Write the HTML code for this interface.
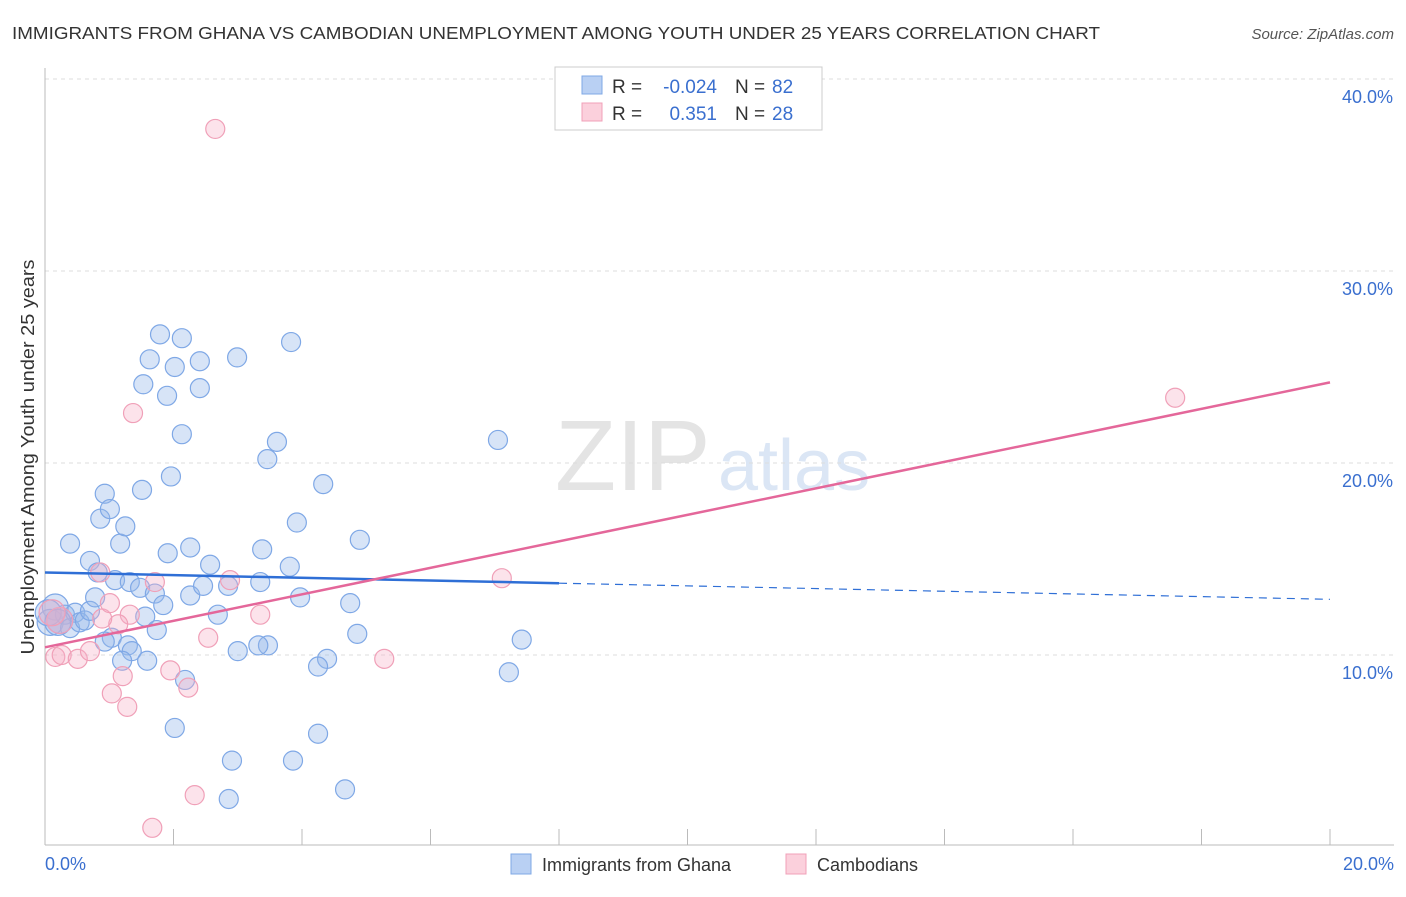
<!DOCTYPE html>
<html><head><meta charset="utf-8"><style>
body{margin:0;background:#fff;font-family:"Liberation Sans",sans-serif;}
svg text{font-family:"Liberation Sans",sans-serif;}
</style></head><body>
<svg id="chart" width="1406" height="892" xmlns="http://www.w3.org/2000/svg">
<text x="12" y="39" font-size="17.5" fill="#333" textLength="1088" lengthAdjust="spacingAndGlyphs">IMMIGRANTS FROM GHANA VS CAMBODIAN UNEMPLOYMENT AMONG YOUTH UNDER 25 YEARS CORRELATION CHART</text>
<text x="1394" y="39" font-size="15" fill="#555" text-anchor="end" font-style="italic">Source: ZipAtlas.com</text>
<text x="555" y="490" font-size="100" fill="#e4e4e4" font-family="Liberation Serif">ZIP</text>
<text x="718" y="490" font-size="72" fill="#dbe6f5">atlas</text>
<g id="grid"></g>
<g id="axes"></g>
<g id="points"></g>
<g id="lines"></g>
<text transform="translate(34,457) rotate(-90)" font-size="18" fill="#333" text-anchor="middle" textLength="395" lengthAdjust="spacingAndGlyphs">Unemployment Among Youth under 25 years</text>
<g>
<rect x="555" y="67" width="267" height="63" fill="#fff" stroke="#ccc"/>
<rect x="582" y="76" width="20" height="18" fill="#b9d0f3" stroke="#7fa8e6"/>
<rect x="582" y="103" width="20" height="18" fill="#fbd0dc" stroke="#f0a0b8"/>
<text x="612" y="93" font-size="19" fill="#333">R =</text>
<text x="717" y="93" font-size="19" fill="#3a6fcf" text-anchor="end">-0.024</text>
<text x="735" y="93" font-size="19" fill="#333">N =</text>
<text x="772" y="93" font-size="19" fill="#3a6fcf">82</text>
<text x="612" y="120" font-size="19" fill="#333">R =</text>
<text x="717" y="120" font-size="19" fill="#3a6fcf" text-anchor="end">0.351</text>
<text x="735" y="120" font-size="19" fill="#333">N =</text>
<text x="772" y="120" font-size="19" fill="#3a6fcf">28</text>
</g>
<g>
<rect x="511" y="854" width="20" height="20" fill="#b9d0f3" stroke="#7fa8e6"/>
<text x="542" y="871" font-size="18" fill="#333">Immigrants from Ghana</text>
<rect x="786" y="854" width="20" height="20" fill="#fbd0dc" stroke="#f0a0b8"/>
<text x="817" y="871" font-size="18" fill="#333">Cambodians</text>
</g>
</svg>
<script>
const blueX=[.16,.08,.23,.31,.39,.47,.54,.62,.70,.78,.39,.70,.82,.86,.93,1.01,1.17,1.25,1.09,1.32,1.48,1.53,1.63,1.79,1.90,2.02,2.13,2.41,2.41,2.13,1.96,1.51,1.91,2.26,2.57,1.71,1.84,1.56,1.74,1.04,.93,1.29,1.35,1.20,1.59,2.18,2.02,2.26,2.46,2.85,2.69,2.99,3.83,3.61,3.46,3.38,3.81,3.92,4.33,4.90,3.35,3.97,4.75,4.86,3.47,3.32,3.00,4.39,4.25,4.25,3.86,2.91,2.86,4.67,7.05,7.42,7.22,.05,.20];
const blueY=[12.5,11.7,11.8,12.1,11.4,12.2,11.7,11.8,12.3,13.0,15.8,14.9,14.3,17.1,18.4,17.6,15.8,16.7,13.9,13.8,13.5,24.1,25.4,26.7,23.5,25.0,26.5,25.3,23.9,21.5,19.3,18.6,15.3,15.6,14.7,13.2,12.6,12.0,11.3,10.9,10.7,10.5,10.2,9.7,9.7,8.7,6.2,13.1,13.6,13.6,12.1,25.5,26.3,21.1,20.2,15.5,14.6,16.9,18.9,16.0,13.8,13.0,12.7,11.1,10.5,10.5,10.2,9.8,9.4,5.9,4.5,4.5,2.5,3.0,21.2,10.8,9.1,12.2,11.7];
const pinkX=[2.65,1.37,1.71,2.88,.86,1.32,1.14,.89,1.01,.23,.16,.26,.51,.70,1.95,2.23,1.21,1.04,1.28,2.54,3.35,5.28,7.11,17.59,2.33,1.67,.11];
const pinkY=[37.4,22.6,13.8,13.9,14.3,12.1,11.6,11.9,12.7,11.8,9.9,10.0,9.8,10.2,9.2,8.3,8.9,8.0,7.3,10.9,12.1,9.8,14.0,23.4,2.7,1.0,12.2];
const blueTrend=[14.3,12.9]; const blueSolidEnd=8.0;
const pinkTrend=[10.4,24.2];
const yTicks=[10,20,30,40]; const xTickLabels=["0.0%","20.0%"];
const X0=45,X1=1330,Y0=847,PPY=19.2;
const sx=v=>X0+(v/20)*(X1-X0), sy=v=>Y0-v*PPY;
const NS="http://www.w3.org/2000/svg";
function mk(parent,tag,attrs){const e=document.createElementNS(NS,tag);for(const k in attrs)e.setAttribute(k,attrs[k]);document.getElementById(parent).appendChild(e);return e;}
yTicks.forEach(t=>{
 const l=mk('grid','line',{x1:X0,x2:1394,y1:sy(t),y2:sy(t),stroke:'#ddd','stroke-dasharray':'4,4'});
 
 
 const tx=mk('grid','text',{x:1393,y:sy(t)+24,'font-size':18,fill:'#3a6fcf','text-anchor':'end'});
 tx.textContent=t.toFixed(1)+'%';
 
 
});
const ax=mk('axes','line',{x1:X0,x2:X0,y1:68,y2:845,stroke:'#bbb'});


const bx=mk('axes','line',{x1:X0,x2:1394,y1:845,y2:845,stroke:'#bbb'});


for(let i=1;i<=10;i++){const t=mk('axes','line',{x1:sx(i*2),x2:sx(i*2),y1:829,y2:845,stroke:'#bbb'});
 
 }
[[0,'start',X0],[20,'end',1394]].forEach((d,i)=>{const t=mk('axes','text',{x:d[2],y:870,'font-size':18,fill:'#3a6fcf','text-anchor':d[1]});t.textContent=xTickLabels[i];
 
 });
function dots(xs,ys,fill,stroke,name){xs.forEach((x,i)=>{const r=(x<0.3&&Math.abs(ys[i]-12)<1)?13:9.5;
 const c=mk('points','circle',{cx:sx(x),cy:sy(ys[i]),r:r,fill:fill,stroke:stroke,'stroke-width':1.2});
 
 });}
dots(blueX,blueY,'rgba(150,185,235,0.38)','#7fa8e6','ghana-point');
dots(pinkX,pinkY,'rgba(245,175,198,0.35)','#f0a0b8','cambodian-point');
const yb=x=>blueTrend[0]+(blueTrend[1]-blueTrend[0])*x/20;
const l1=mk('lines','line',{x1:sx(0),y1:sy(yb(0)),x2:sx(blueSolidEnd),y2:sy(yb(blueSolidEnd)),stroke:'#2f6fd6','stroke-width':2.5});


const l2=mk('lines','line',{x1:sx(blueSolidEnd),y1:sy(yb(blueSolidEnd)),x2:sx(20),y2:sy(yb(20)),stroke:'#2f6fd6','stroke-width':1.2,'stroke-dasharray':'8,6'});


const l3=mk('lines','line',{x1:sx(0),y1:sy(pinkTrend[0]),x2:sx(20),y2:sy(pinkTrend[1]),stroke:'#e4679a','stroke-width':2.5});


</script>
</body></html>
